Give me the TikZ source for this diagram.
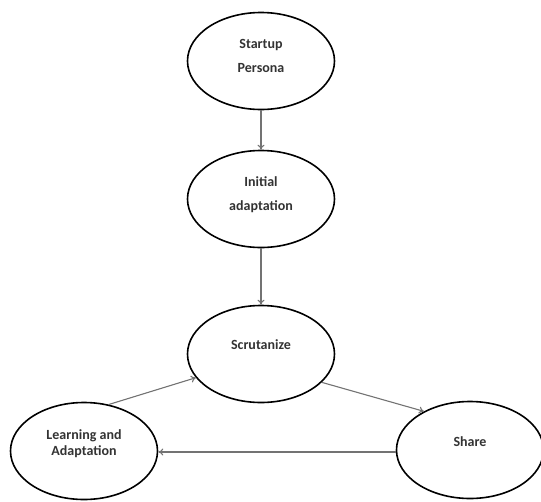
\documentclass[tikz,border=0pt]{standalone}
\usepackage{fontspec}
\setmainfont{Carlito}
\usetikzlibrary{shapes.geometric,arrows.meta}
\begin{document}
\begin{tikzpicture}[x=1pt,y=-1pt,
  stage/.style={ellipse,draw=black,line width=1.6pt,fill=white,minimum width=147pt,minimum height=97pt,inner sep=0pt},
  lbl/.style={font=\bfseries\fontsize{14}{23}\selectfont,text=black!80,align=center,inner sep=0pt},
  flow/.style={draw=black!55,line width=1.1pt,-{To[length=5pt,width=7pt]}}]
\useasboundingbox (0,0) rectangle (541,501);
\node[stage] (sp) at (261,61) {};
\node[stage] (ia) at (261,199) {};
\node[stage] (sc) at (261,354) {};
\node[stage] (la) at (84,451) {};
\node[stage] (sh) at (470,450) {};
\node[lbl] (tsp1) at (261,45) {Startup};
\node[lbl] (tsp2) at (261,68) {Persona};
\node[lbl] (tia1) at (261,182) {Initial};
\node[lbl] (tia2) at (261,207) {adaptation};
\node[lbl] (tsc) at (261,345) {Scrutanize};
\node[lbl] (tla1) at (84,436) {Learning and};
\node[lbl] (tla2) at (84,452) {Adaptation};
\node[lbl] (tsh) at (470,442) {Share};
\draw[flow] (sp) -- (ia);
\draw[flow] (ia) -- (sc);
\draw[flow] (sc.-25) -- (sh.140);
\draw[flow] (sh.west |- 0,452) -- (la.east |- 0,452);
\draw[flow] (la.62) -- (sc.200);
\end{tikzpicture}
\end{document}
